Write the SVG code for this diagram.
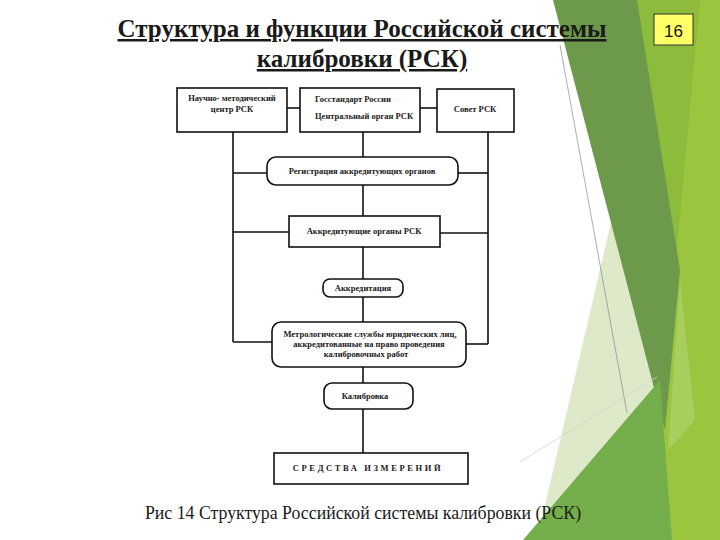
<svg xmlns="http://www.w3.org/2000/svg" width="720" height="540" viewBox="0 0 720 540">
<style>
.box{fill:#fff;stroke:#111;stroke-width:1.6}
.con{stroke:#111;stroke-width:1.6;fill:none}
.t{font-family:"Liberation Serif","DejaVu Serif",serif;font-size:8.5px;font-weight:bold;fill:#1a1a1a}
.title{font-family:"Liberation Serif","DejaVu Serif",serif;font-size:25px;font-weight:bold;fill:#1a1a1a;text-decoration:underline}
</style>
<rect x="0" y="0" width="720" height="540" fill="#ffffff"/>
<g id="background">
<polygon points="630,0 720,0 720,540 600,540 665,430" fill="#8dbb3c"/>
<polygon points="700,0 720,0 720,540 650,540" fill="#9bc53f"/>
<polygon points="612,218 660,388 540,527" fill="#dde9c9"/>
<polygon points="553,0 637,0 680,270 665,430" fill="#6c9a4a"/>
<polygon points="680,280 695,420 668,450" fill="#a6cf5e"/>
<polygon points="523,540 660,380 672,540" fill="#74ae4a"/>
<line x1="560" y1="45" x2="627" y2="413" stroke="#8a8a8a" stroke-width="0.7"/>
<line x1="520" y1="462" x2="657" y2="377" stroke="#d4d4d4" stroke-width="0.8"/>
</g>
<g id="title">
<text class="title" x="362" y="37" text-anchor="middle">Структура и функции Российской системы</text>
<text class="title" x="362" y="67" text-anchor="middle">калибровки (РСК)</text>
</g>
<g id="page-number">
<rect x="654" y="14" width="39" height="31" fill="#ffff66" stroke="#333" stroke-width="1"/>
<text x="673.5" y="37" text-anchor="middle" font-family="Liberation Sans, Arial, sans-serif" font-size="17" fill="#111">16</text>
</g>
<g id="connectors">
<line class="con" x1="287" y1="108" x2="300" y2="108"/>
<line class="con" x1="420" y1="108" x2="437" y2="108"/>
<line class="con" x1="233" y1="132" x2="233" y2="342"/>
<line class="con" x1="488" y1="132" x2="488" y2="344"/>
<line class="con" x1="363" y1="132" x2="363" y2="453"/>
<line class="con" x1="233" y1="173" x2="267" y2="173"/>
<line class="con" x1="458" y1="173" x2="488" y2="173"/>
<line class="con" x1="233" y1="232" x2="289" y2="232"/>
<line class="con" x1="440" y1="233" x2="488" y2="233"/>
<line class="con" x1="233" y1="342" x2="272" y2="342"/>
<line class="con" x1="466" y1="344" x2="488" y2="344"/>
</g>
<g id="node-center">
<rect class="box" x="177" y="88" width="110" height="44"/>
<text class="t" x="232" y="101" text-anchor="middle">Научно- методический</text>
<text class="t" x="232" y="112" text-anchor="middle">центр РСК</text>
</g>
<g id="node-gosstandart">
<rect class="box" x="300" y="88" width="120" height="44"/>
<text class="t" x="315" y="102">Госстандарт России</text>
<text class="t" x="315" y="119">Центральный орган РСК</text>
</g>
<g id="node-sovet">
<rect class="box" x="437" y="89" width="77" height="43"/>
<text class="t" x="475" y="112" text-anchor="middle">Совет РСК</text>
</g>
<g id="node-registration">
<rect class="box" x="267" y="157" width="191" height="28" rx="9"/>
<text class="t" x="362" y="174" text-anchor="middle">Регистрация аккредитующих органов</text>
</g>
<g id="node-accred-organs">
<rect class="box" x="289" y="216" width="151" height="31"/>
<text class="t" x="364" y="234" text-anchor="middle">Аккредитующие органы РСК</text>
</g>
<g id="node-accreditation">
<rect class="box" x="323" y="279" width="80" height="18" rx="7"/>
<text class="t" x="363" y="291" text-anchor="middle">Аккредитация</text>
</g>
<g id="node-metrology">
<rect class="box" x="272" y="322" width="194" height="45" rx="9"/>
<text class="t" x="370" y="337" text-anchor="middle">Метрологические службы юридических лиц,</text>
<text class="t" x="369" y="347" text-anchor="middle">аккредитованные на право проведения</text>
<text class="t" x="366" y="357" text-anchor="middle">калибровочных работ</text>
</g>
<g id="node-calibration">
<rect class="box" x="324" y="383" width="89" height="26" rx="8"/>
<text class="t" x="365" y="399" text-anchor="middle">Калибровка</text>
</g>
<g id="node-means">
<rect class="box" x="274" y="453" width="194" height="31"/>
<text class="t" x="368" y="471" text-anchor="middle" font-size="7.5" letter-spacing="2.6">СРЕДСТВА  ИЗМЕРЕНИЙ</text>
</g>
<g id="caption">
<text x="363" y="519" text-anchor="middle" font-family="Liberation Serif, serif" font-size="17.8" fill="#1a1a1a">Рис 14 Структура Российской системы калибровки (РСК)</text>
</g>
</svg>
